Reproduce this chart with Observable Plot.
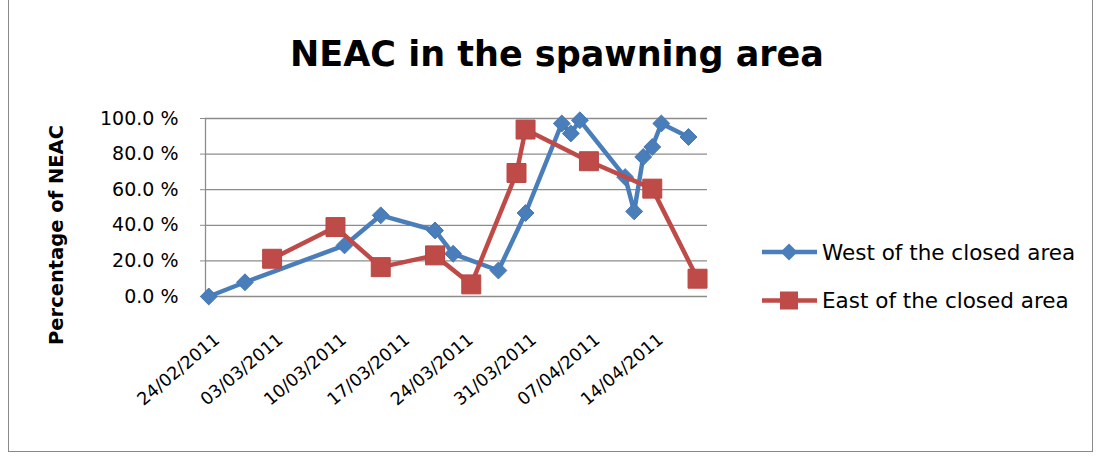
<!DOCTYPE html>
<html>
<head>
<meta charset="utf-8">
<script src="https://cdn.jsdelivr.net/npm/d3@7"></script>
<script src="https://cdn.jsdelivr.net/npm/@observablehq/plot@0.6"></script>
<style>
  html, body { margin: 0; padding: 0; background: #ffffff; }
  #wrap { position: relative; width: 1101px; height: 459px; overflow: hidden; background: #fff; }
  #border { position: absolute; left: 8px; top: -1px; width: 1085px; height: 453px; border: 1px solid #898989; box-sizing: border-box; }
  #chart { position: absolute; left: 0; top: 0; }
  #overlay { position: absolute; left: 0; top: 0; }
</style>
</head>
<body>
<div id="wrap">
  <div id="border"></div>
  <div id="chart"></div>
  <svg id="overlay" width="1101" height="459" font-family="DejaVu Sans, sans-serif"></svg>
</div>
<script>
// ---- data ----
const westDates  = ["2011-02-24","2011-02-28","2011-03-11","2011-03-15","2011-03-21","2011-03-23","2011-03-28","2011-03-31","2011-04-04","2011-04-05","2011-04-06","2011-04-11","2011-04-12","2011-04-13","2011-04-14","2011-04-15","2011-04-18"];
const westValues = [0, 8.0, 28.7, 45.6, 37.1, 24.0, 14.6, 46.9, 97.2, 91.6, 99.0, 67.1, 47.8, 78.4, 84.0, 97.2, 89.6];
const eastDates  = ["2011-03-03","2011-03-10","2011-03-15","2011-03-21","2011-03-25","2011-03-30","2011-03-31","2011-04-07","2011-04-14","2011-04-19"];
const eastValues = [21.2, 39.0, 16.5, 23.1, 6.8, 69.4, 93.8, 76.0, 60.6, 10.0];
const xTickDates = ["2011-02-24","2011-03-03","2011-03-10","2011-03-17","2011-03-24","2011-03-31","2011-04-07","2011-04-14"];
const yTicks = [0, 20, 40, 60, 80, 100];
const seriesNames = ["West of the closed area", "East of the closed area"];
const titleText = "NEAC in the spawning area";
const yTitle = "Percentage of NEAC";

const blue = "#4A7EBB", red = "#BE4B48", grid = "#8c8c8c";

const west = westDates.map((d, i) => ({date: new Date(d), value: westValues[i]}));
const east = eastDates.map((d, i) => ({date: new Date(d), value: eastValues[i]}));
const ticks = xTickDates.map(d => new Date(d));
const fmt = d3.utcFormat("%d/%m/%Y");

const diamond = d3.symbolDiamond2 || d3.symbolDiamond;

const chart = Plot.plot({
  width: 1101,
  height: 459,
  marginLeft: 205,
  marginRight: 394,
  marginTop: 118,
  marginBottom: 163,
  style: {fontFamily: "DejaVu Sans, sans-serif", background: "transparent", color: "#000"},
  x: {type: "utc", domain: [new Date("2011-02-23T15:22:00Z"), new Date("2011-04-20T02:24:00Z")], axis: null},
  y: {domain: [0, 100]},
  marks: [
    Plot.gridY(yTicks, {stroke: grid, strokeOpacity: 1, strokeWidth: 1.3}),
    Plot.frame({anchor: "left", stroke: grid, strokeWidth: 1.3}),
    Plot.axisY(yTicks, {tickSize: 5, tickPadding: 22, tickFormat: d => d.toFixed(1) + " %", fontSize: 19, stroke: grid, fill: "#000", label: null}),
    Plot.text(ticks, {x: d => d, frameAnchor: "bottom", text: d => fmt(d), rotate: -40, textAnchor: "end", lineAnchor: "bottom", dx: 12, dy: 45, fontSize: 17.5, fill: "#000"}),
    Plot.line(west, {x: "date", y: "value", stroke: blue, strokeWidth: 4.5}),
    Plot.dot(west, {x: "date", y: "value", symbol: diamond, r: 7.6, fill: blue, stroke: "#4577b3", strokeWidth: 1}),
    Plot.line(east, {x: "date", y: "value", stroke: red, strokeWidth: 4.5}),
    Plot.dot(east, {x: "date", y: "value", symbol: "square", r: 10.7, fill: red, stroke: "#b84744", strokeWidth: 1})
  ]
});
document.getElementById("chart").appendChild(chart);

// ---- overlay: title, y title, legend ----
const ov = d3.select("#overlay");
ov.append("text").attr("x", 557).attr("y", 66).attr("text-anchor", "middle")
  .attr("font-size", 35).attr("font-weight", "bold").attr("fill", "#000").text(titleText);
ov.append("text").attr("transform", "translate(63,235) rotate(-90)").attr("text-anchor", "middle")
  .attr("font-size", 19.5).attr("font-weight", "bold").attr("fill", "#000").text(yTitle);

const legend = [
  {name: seriesNames[0], color: blue, y: 252, sym: "diamond"},
  {name: seriesNames[1], color: red, y: 300.5, sym: "square"}
];
legend.forEach(l => {
  const g = ov.append("g");
  g.append("line").attr("x1", 762).attr("x2", 817).attr("y1", l.y).attr("y2", l.y)
    .attr("stroke", l.color).attr("stroke-width", 4.5);
  if (l.sym === "diamond") {
    g.append("path").attr("transform", `translate(789,${l.y})`)
      .attr("d", d3.symbol(diamond, 184)()).attr("fill", l.color);
  } else {
    g.append("rect").attr("x", 780).attr("y", l.y - 9).attr("width", 18).attr("height", 18).attr("fill", l.color);
  }
  g.append("text").attr("x", 822).attr("y", l.y + 7.5).attr("font-size", 21.5).attr("fill", "#000").text(l.name);
});
</script>
</body>
</html>
